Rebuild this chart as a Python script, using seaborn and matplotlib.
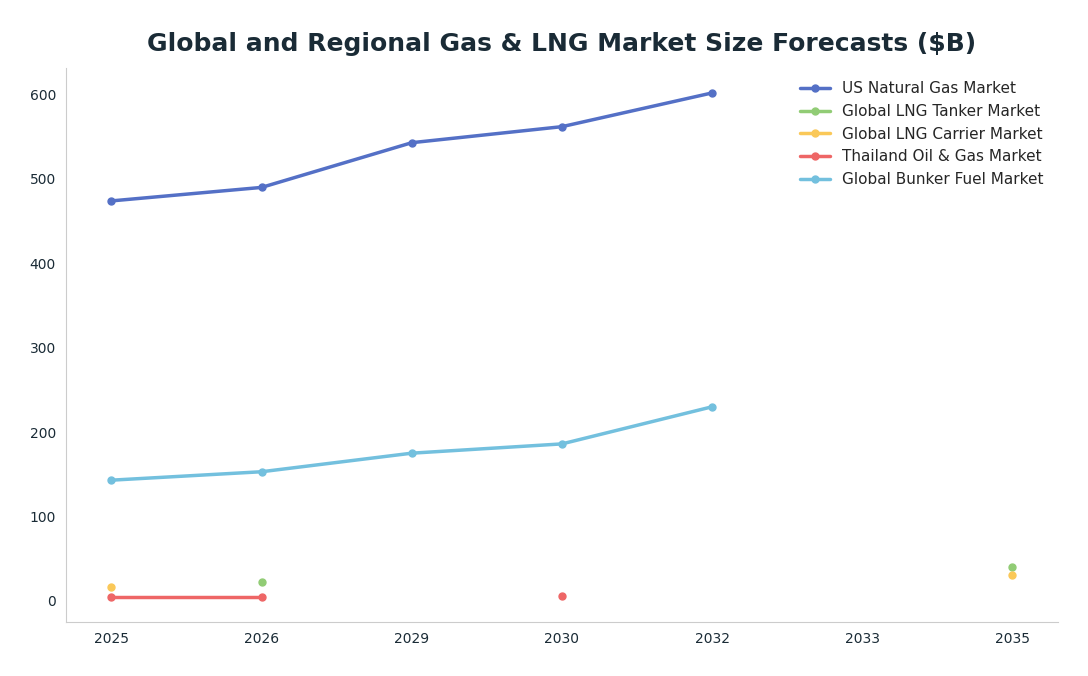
import numpy as np
import matplotlib.pyplot as plt
import seaborn as sns

years = ['2025', '2026', '2029', '2030', '2032', '2033', '2035']
nan = np.nan
us_gas = [474, 490, 543, 562, 602, nan, nan]
lng_tanker = [nan, 22, nan, nan, nan, nan, 40]
lng_carrier = [16, nan, nan, nan, nan, nan, 31]
thailand = [5, 5, nan, 6, nan, nan, nan]
bunker = [143, 153, 175, 186, 230, nan, nan]

series = [
    ('US Natural Gas Market', us_gas, '#5470c6'),
    ('Global LNG Tanker Market', lng_tanker, '#91cc75'),
    ('Global LNG Carrier Market', lng_carrier, '#fac858'),
    ('Thailand Oil & Gas Market', thailand, '#ee6666'),
    ('Global Bunker Fuel Market', bunker, '#73c0de'),
]

sns.set_style('white')
fig, ax = plt.subplots(figsize=(10.88, 6.76), dpi=100)
x = np.arange(len(years))
for name, vals, col in series:
    ax.plot(x, vals, color=col, lw=2.5, marker='o', ms=5, label=name)

ax.set_xticks(x)
ax.set_xticklabels(years)
ax.set_xlim(-0.3, len(years) - 1 + 0.3)
ax.set_ylim(-25, 632)
ax.tick_params(axis='both', labelsize=10, colors='#1a2b36', length=4)
ax.tick_params(axis='both', colors='#1a2b36')
sns.despine(ax=ax)
for s in ['left', 'bottom']:
    ax.spines[s].set_color('#cccccc')
ax.set_title('Global and Regional Gas & LNG Market Size Forecasts ($B)',
             fontsize=18, fontweight='bold', color='#1a2b36', pad=12)
ax.legend(loc='upper right', frameon=False, fontsize=11)
plt.subplots_adjust(left=0.061, right=0.972, top=0.9, bottom=0.08)
plt.savefig('out.png')
